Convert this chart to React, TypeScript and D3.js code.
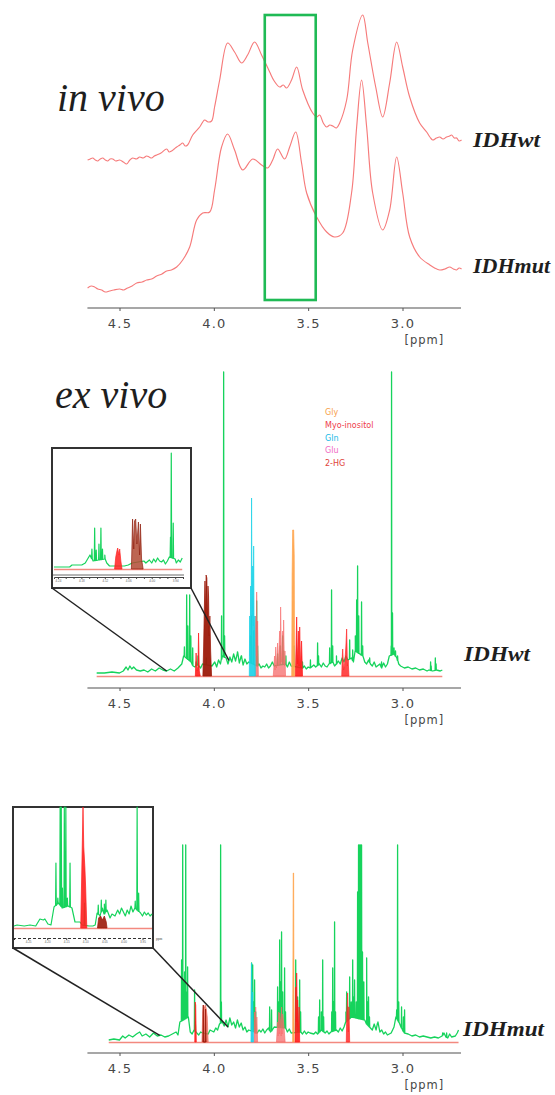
import * as d3 from "d3"
import React, { useEffect, useRef } from "react"

type Pt = [number, number]

// ---- in vivo spectra: [ppm, intensity a.u.] ----
const vivoWt: Pt[] = [
  [4.669, 5], [4.655, 6], [4.642, 7], [4.628, 5], [4.616, 4], [4.602, 6], [4.589, 7], [4.575, 5],
  [4.563, 4], [4.55, 6], [4.536, 6], [4.52, 4], [4.499, 5], [4.48, 3], [4.462, 1], [4.445, 5],
  [4.43, 7], [4.41, 6], [4.393, 8], [4.375, 7], [4.356, 9], [4.343, 8], [4.33, 7], [4.315, 9],
  [4.303, 10], [4.28, 12], [4.25, 16], [4.237, 13], [4.224, 14], [4.21, 16], [4.197, 18], [4.18, 20],
  [4.165, 22], [4.152, 19], [4.139, 20], [4.112, 30], [4.075, 38], [4.049, 45], [4.03, 43], [4.012, 44], [3.996, 58],
  [3.969, 85], [3.927, 122], [3.89, 113], [3.853, 102], [3.821, 110], [3.784, 123], [3.747, 110],
  [3.704, 93], [3.68, 84], [3.651, 78], [3.632, 80], [3.614, 77], [3.588, 85], [3.561, 98], [3.529, 75], [3.476, 52],
  [3.455, 48], [3.439, 50], [3.42, 42], [3.402, 38], [3.385, 40], [3.37, 39], [3.35, 37], [3.333, 42],
  [3.296, 65], [3.264, 115], [3.211, 150],
  [3.184, 122], [3.142, 78], [3.105, 48], [3.068, 82], [3.031, 123], [2.999, 98], [2.962, 68],
  [2.909, 42], [2.872, 33], [2.855, 28], [2.84, 25], [2.82, 27], [2.803, 28], [2.785, 26], [2.766, 28],
  [2.75, 29], [2.74, 30], [2.725, 27], [2.713, 27], [2.7, 24], [2.687, 25]
]
const vivoMut: Pt[] = [
  [4.669, 7], [4.65, 9], [4.632, 8], [4.615, 6], [4.595, 5], [4.575, 3], [4.553, 4], [4.53, 5],
  [4.499, 6], [4.478, 5], [4.457, 7], [4.433, 9], [4.409, 12], [4.38, 13], [4.356, 15], [4.33, 16],
  [4.303, 19], [4.275, 21], [4.25, 24], [4.225, 25], [4.197, 28], [4.165, 35], [4.128, 48], [4.091, 75], [4.059, 82],
  [4.022, 83], [3.996, 105], [3.959, 148], [3.927, 161], [3.89, 145], [3.847, 125], [3.794, 136],
  [3.747, 130], [3.715, 127], [3.688, 135], [3.662, 146], [3.625, 136], [3.598, 148], [3.566, 163],
  [3.535, 132], [3.508, 102], [3.455, 78], [3.402, 63], [3.36, 58], [3.317, 62], [3.27, 102],
  [3.243, 168], [3.217, 215], [3.19, 168], [3.158, 102], [3.105, 65], [3.068, 85], [3.031, 138],
  [2.999, 102], [2.962, 58], [2.909, 38], [2.855, 30], [2.83, 27], [2.803, 25], [2.775, 26], [2.75, 28],
  [2.73, 26], [2.713, 25], [2.7, 27], [2.687, 26]
]

// ---- ex vivo IDHwt ----
const wtBase: Pt[] = [
  [4.621, 3], [4.58, 3], [4.54, 4], [4.5, 3], [4.48, 5], [4.465, 9], [4.455, 6], [4.445, 10], [4.435, 7],
  [4.425, 9], [4.41, 6], [4.39, 5], [4.37, 6], [4.35, 4], [4.33, 7], [4.31, 5], [4.29, 8], [4.27, 6],
  [4.25, 5], [4.23, 7], [4.21, 5], [4.19, 8], [4.17, 12], [4.16, 20], [4.12, 14], [4.11, 10], [4.1, 9],
  [4.09, 12], [4.07, 8], [4.06, 12], [4.01, 10], [3.995, 14], [3.985, 9], [3.975, 16], [3.965, 12],
  [3.955, 20], [3.935, 18], [3.925, 12], [3.915, 19], [3.905, 14], [3.895, 22], [3.885, 15], [3.875, 24],
  [3.865, 13], [3.855, 20], [3.845, 11], [3.835, 17], [3.825, 12], [3.815, 14], [3.77, 10], [3.76, 12],
  [3.75, 8], [3.74, 10], [3.73, 9], [3.72, 12], [3.71, 8], [3.7, 10], [3.69, 14], [3.68, 10], [3.62, 12],
  [3.61, 9], [3.6, 14], [3.59, 10], [3.53, 8], [3.52, 10], [3.51, 7], [3.5, 9], [3.49, 8], [3.47, 11],
  [3.46, 9], [3.44, 12], [3.43, 9], [3.42, 13], [3.41, 10], [3.4, 9], [3.39, 12], [3.37, 14], [3.36, 10],
  [3.35, 12], [3.34, 15], [3.33, 12], [3.32, 18], [3.31, 14], [3.3, 20], [3.29, 16], [3.27, 18],
  [3.26, 14], [3.25, 25], [3.21, 20], [3.2, 14], [3.19, 12], [3.18, 16], [3.17, 12], [3.16, 10],
  [3.15, 14], [3.14, 9], [3.12, 12], [3.11, 8], [3.1, 13], [3.09, 9], [3.08, 12], [3.07, 20], [3.045, 22],
  [3.03, 18], [3.02, 12], [3.01, 10], [2.99, 8], [2.97, 9], [2.95, 7], [2.93, 8], [2.91, 6], [2.89, 7],
  [2.87, 5], [2.86, 6], [2.84, 5], [2.82, 6], [2.8, 5], [2.789, 6]
]
const wtPeaks: Pt[] = [
  [4.156, 29], [4.144, 81], [4.138, 50], [4.128, 81], [4.122, 40], [4.112, 28], [4.094, 14], [4.084, 20],
  [4.04, 18], [3.959, 60], [3.948, 304], [3.943, 40], [3.874, 24], [3.853, 20], [3.805, 40], [3.8, 60],
  [3.789, 45], [3.773, 75], [3.768, 30], [3.662, 22], [3.648, 30], [3.635, 40], [3.63, 25], [3.618, 20],
  [3.575, 30], [3.53, 14], [3.488, 16], [3.45, 33], [3.445, 20], [3.386, 28], [3.376, 86], [3.37, 30],
  [3.35, 20], [3.28, 36], [3.264, 26], [3.25, 40], [3.243, 76], [3.238, 110], [3.232, 60], [3.217, 74],
  [3.211, 30], [3.174, 18], [3.111, 14], [3.06, 30], [3.058, 304], [3.053, 63], [3.045, 28], [3.037, 25],
  [3.026, 20], [2.851, 14], [2.848, 10], [2.826, 18], [2.822, 12]
]
const wtGln: Pt[] = [[3.812, 0], [3.81, 60], [3.807, 20], [3.805, 90], [3.802, 40], [3.8, 178], [3.797, 60], [3.794, 110], [3.791, 50], [3.789, 130], [3.786, 30], [3.783, 60], [3.78, 0]]
const wtGly: Pt[] = [[3.587, 0], [3.585, 100], [3.582, 146], [3.577, 146], [3.574, 120], [3.572, 0]]
const wtSalmonA: Pt[] = [[3.782, 0], [3.778, 60], [3.775, 20], [3.773, 84], [3.77, 30], [3.768, 55], [3.764, 0]]
const wtSalmonB: Pt[] = [[3.685, 0], [3.678, 20], [3.675, 6], [3.672, 29], [3.668, 8], [3.662, 33], [3.658, 10], [3.651, 45], [3.648, 12], [3.646, 69], [3.641, 14], [3.635, 45], [3.632, 12], [3.63, 56], [3.626, 10], [3.623, 25], [3.62, 0]]
const wtRedA: Pt[] = [[4.098, 0], [4.094, 23], [4.09, 5], [4.084, 10], [4.081, 43], [4.077, 5], [4.072, 0]]
const wtRedB: Pt[] = [[3.568, 0], [3.564, 30], [3.561, 59], [3.557, 12], [3.552, 45], [3.548, 10], [3.545, 49], [3.54, 8], [3.535, 35], [3.53, 0]]
const wtRedC: Pt[] = [[3.322, 0], [3.319, 20], [3.317, 27], [3.312, 6], [3.305, 15], [3.3, 30], [3.296, 47], [3.292, 10], [3.288, 16], [3.284, 0]]
const wtDark: Pt[] = [[4.058, 0], [4.054, 30], [4.05, 70], [4.047, 95], [4.044, 60], [4.041, 101], [4.037, 98], [4.034, 55], [4.031, 90], [4.028, 80], [4.025, 40], [4.021, 60], [4.017, 25], [4.012, 0]]

// ---- ex vivo IDHmut ----
const mutBase: Pt[] = [
  [4.557, 2], [4.53, 3], [4.5, 2], [4.483, 6], [4.47, 4], [4.45, 7], [4.43, 5], [4.41, 8], [4.393, 10],
  [4.38, 6], [4.36, 8], [4.34, 5], [4.32, 9], [4.3, 6], [4.28, 7], [4.26, 5], [4.24, 6], [4.22, 8],
  [4.2, 10], [4.19, 7], [4.18, 20], [4.135, 25], [4.125, 10], [4.115, 8], [4.105, 12], [4.09, 9],
  [4.08, 7], [4.07, 10], [4.06, 9], [4.03, 8], [4.02, 12], [4.0, 10], [3.99, 14], [3.98, 12], [3.97, 18],
  [3.955, 20], [3.945, 16], [3.935, 22], [3.925, 15], [3.915, 24], [3.905, 17], [3.895, 20], [3.885, 14],
  [3.875, 22], [3.865, 15], [3.855, 19], [3.845, 12], [3.835, 15], [3.825, 10], [3.815, 12], [3.77, 9],
  [3.76, 12], [3.75, 10], [3.74, 13], [3.73, 9], [3.72, 12], [3.71, 14], [3.7, 10], [3.69, 12], [3.68, 15],
  [3.62, 14], [3.61, 10], [3.6, 13], [3.59, 9], [3.54, 10], [3.53, 8], [3.52, 11], [3.51, 8], [3.5, 10],
  [3.49, 9], [3.47, 8], [3.46, 10], [3.45, 8], [3.43, 12], [3.41, 9], [3.4, 11], [3.39, 8], [3.38, 10],
  [3.35, 12], [3.34, 10], [3.33, 14], [3.32, 11], [3.31, 15], [3.3, 20], [3.27, 25], [3.2, 22], [3.19, 18],
  [3.17, 14], [3.16, 12], [3.15, 18], [3.14, 12], [3.13, 20], [3.12, 10], [3.11, 12], [3.1, 8], [3.09, 10],
  [3.08, 7], [3.06, 9], [3.045, 15], [3.035, 25], [3.02, 20], [3.0, 12], [2.99, 9], [2.97, 8], [2.95, 6],
  [2.93, 7], [2.91, 5], [2.89, 6], [2.87, 5], [2.85, 4], [2.83, 5], [2.81, 4], [2.79, 6], [2.78, 9],
  [2.77, 5], [2.76, 4], [2.75, 8], [2.74, 5], [2.72, 6], [2.71, 9], [2.703, 12]
]
const mutPeaks: Pt[] = [
  [4.171, 82], [4.165, 197], [4.16, 60], [4.155, 70], [4.149, 197], [4.143, 50], [4.139, 75], [4.102, 52],
  [4.098, 20], [3.964, 197], [3.96, 40], [3.8, 79], [3.794, 77], [3.788, 40], [3.784, 62], [3.778, 30],
  [3.704, 35], [3.694, 32], [3.662, 55], [3.656, 40], [3.651, 102], [3.646, 60], [3.641, 110], [3.635, 50],
  [3.625, 74], [3.62, 30], [3.566, 82], [3.556, 45], [3.545, 62], [3.54, 30], [3.445, 25], [3.439, 42],
  [3.43, 30], [3.423, 82], [3.418, 25], [3.375, 30], [3.37, 74], [3.365, 40], [3.36, 120], [3.355, 30],
  [3.3, 30], [3.296, 50], [3.29, 35], [3.28, 65], [3.272, 40], [3.264, 82], [3.258, 45], [3.254, 62],
  [3.245, 40], [3.238, 150], [3.233, 197], [3.23, 120], [3.227, 197], [3.222, 197], [3.217, 197],
  [3.212, 90], [3.205, 60], [3.19, 84], [3.185, 40], [3.18, 45], [3.175, 25], [3.132, 19], [3.031, 32],
  [3.026, 197], [3.02, 40], [3.005, 35], [2.995, 25], [2.989, 32], [2.787, 9], [2.766, 9]
]
const mutGln: Pt[] = [[3.803, 0], [3.8, 79], [3.797, 30], [3.794, 50], [3.79, 0]]
const mutGly: Pt[] = [[3.582, 0], [3.579, 169], [3.577, 169], [3.575, 0]]
const mutSalmonA: Pt[] = [[3.788, 0], [3.784, 30], [3.781, 8], [3.778, 35], [3.775, 8], [3.772, 25], [3.768, 0]]
const mutSalmonB: Pt[] = [[3.668, 0], [3.662, 20], [3.659, 6], [3.656, 30], [3.653, 8], [3.651, 29], [3.646, 20], [3.643, 6], [3.641, 35], [3.638, 8], [3.635, 28], [3.628, 15], [3.622, 0]]
const mutSalmonC: Pt[] = [[4.063, 0], [4.059, 30], [4.055, 37], [4.05, 34], [4.045, 37], [4.04, 33], [4.035, 25], [4.03, 0]]
const mutRedA: Pt[] = [[4.101, 0], [4.099, 40], [4.096, 37], [4.093, 0]]
const mutRedB: Pt[] = [[3.57, 0], [3.566, 55], [3.562, 20], [3.561, 69], [3.557, 15], [3.556, 42], [3.552, 10], [3.548, 35], [3.545, 0]]
const mutRedC: Pt[] = [[3.298, 0], [3.295, 30], [3.291, 49], [3.287, 10], [3.284, 35], [3.28, 0]]
const mutDark: Pt[] = [[4.058, 0], [4.056, 37], [4.053, 0], [4.046, 0], [4.044, 33], [4.041, 0]]

// ---- insets ----
const insetWtBase: Pt[] = [
  [4.25, 2], [4.23, 2], [4.21, 2], [4.204, 4], [4.19, 4], [4.179, 4], [4.17, 6], [4.158, 14], [4.15, 8],
  [4.12, 10], [4.115, 6], [4.108, 3], [4.095, 3], [4.07, 3], [4.06, 4], [4.05, 6], [4.02, 8], [4.015, 6],
  [4.006, 9], [4.0, 6], [3.995, 10], [3.99, 7], [3.985, 11], [3.98, 8], [3.975, 7], [3.97, 9], [3.965, 5],
  [3.96, 8], [3.955, 12], [3.94, 10], [3.937, 6], [3.932, 9], [3.927, 7], [3.922, 11]
]
const insetWtPeaks: Pt[] = [[4.153, 20], [4.146, 41], [4.142, 19], [4.135, 25], [4.13, 41], [4.126, 20], [4.12, 14], [3.952, 32], [3.95, 116], [3.945, 46]]
const insetWtRed: Pt[] = [[4.095, 0], [4.092, 12], [4.089, 18], [4.087, 21], [4.084, 14], [4.082, 20], [4.079, 8], [4.076, 0]]
const insetWtDark: Pt[] = [[4.052, 0], [4.049, 50], [4.046, 20], [4.044, 48], [4.041, 50], [4.038, 25], [4.034, 47], [4.031, 14], [4.029, 45], [4.026, 10], [4.022, 0]]

const insetMutBase: Pt[] = [
  [4.287, 2], [4.279, 3], [4.26, 2], [4.245, 3], [4.23, 2], [4.219, 9], [4.21, 8], [4.206, 9], [4.198, 4],
  [4.19, 3], [4.182, 21], [4.17, 25], [4.16, 20], [4.145, 22], [4.135, 20], [4.127, 6], [4.114, 6],
  [4.108, 3], [4.09, 2], [4.08, 2], [4.074, 3], [4.069, 15], [4.061, 12], [4.055, 20], [4.05, 14],
  [4.043, 18], [4.035, 10], [4.03, 14], [4.022, 12], [4.015, 18], [4.01, 14], [4.005, 20], [4.0, 16],
  [3.995, 12], [3.99, 18], [3.985, 14], [3.98, 22], [3.975, 16], [3.97, 20], [3.955, 15], [3.95, 12],
  [3.945, 16], [3.94, 13], [3.935, 15], [3.93, 12], [3.925, 14]
]
const insetMutPeaks: Pt[] = [[4.177, 65], [4.172, 30], [4.166, 121], [4.163, 121], [4.16, 40], [4.155, 121], [4.151, 121], [4.147, 30], [4.14, 65], [4.102, 25], [4.066, 23], [4.058, 28], [4.05, 24], [4.046, 28], [3.969, 27], [3.964, 121], [3.96, 35]]
const insetMutRed: Pt[] = [[4.112, 0], [4.11, 40], [4.108, 81], [4.106, 121], [4.104, 81], [4.101, 60], [4.099, 40], [4.096, 0]]
const insetMutDark: Pt[] = [[4.068, 0], [4.065, 10], [4.06, 12], [4.055, 8], [4.05, 12], [4.045, 6], [4.043, 0]]

const ppmTicks = [4.5, 4.0, 3.5, 3.0]
const axisSpan: Pt = [4.67, 2.69]
const boxRange: Pt = [3.73, 3.46]
const legendNames = ["Gly", "Myo-inositol", "Gln", "Glu", "2-HG"]
const legendColors = ["#f7a04a", "#ee3d4d", "#16b9e6", "#f06ac4", "#e0433c"]

const GREEN = "#16d35c"
const BASE_RED = "#f3897f"

const baseAt = (base: Pt[], p: number) => {
  const s = base.slice().sort((a, b) => a[0] - b[0])
  const i = d3.bisector((d: Pt) => d[0]).left(s, p)
  if (i <= 0) return s[0][1]
  if (i >= s.length) return s[s.length - 1][1]
  const [p0, v0] = s[i - 1]
  const [p1, v1] = s[i]
  return v0 + (v1 - v0) * (p - p0) / (p1 - p0)
}

const buildTrace = (base: Pt[], peaks: Pt[], hw: number): Pt[] => {
  const pts: Pt[] = base.slice()
  peaks.forEach(([p, h]) => {
    const b = baseAt(base, p)
    pts.push([p + hw, b], [p, h], [p - hw, b])
  })
  return pts.sort((a, b) => b[0] - a[0])
}

const App = () => {
  const ref = useRef<SVGSVGElement>(null)

  useEffect(() => {
    const svg = d3.select(ref.current)
    svg.selectAll("*").remove()

    const xs = d3.scaleLinear().domain([4.5, 3.0]).range([119.5, 402.5])

    const drawAxis = (y0: number) => {
      const g = svg.append("g").attr("transform", `translate(0, ${y0})`)
      g.append("line")
        .attr("x1", xs(axisSpan[0])).attr("x2", xs(axisSpan[1]))
        .attr("stroke", "#8a8a8a").attr("stroke-width", 1.6)
      const ax = g.append("g").call(d3.axisBottom(xs).tickValues(ppmTicks).tickSize(3).tickFormat(d3.format(".1f")))
      ax.select(".domain").remove()
      ax.selectAll(".tick line").attr("stroke", "#555")
      ax.selectAll(".tick text")
        .attr("y", 11).attr("font-family", "DejaVu Sans").attr("font-size", 13)
        .attr("fill", "#474747").attr("letter-spacing", 1.2)
      g.append("text").attr("x", xs(3.0) + 2).attr("y", 36)
        .attr("font-family", "DejaVu Sans").attr("font-size", 11.5).attr("letter-spacing", 1)
        .attr("fill", "#474747").text("[ppm]")
    }

    const label = (txt: string, x0: number, y0: number, len: number) => {
      svg.append("text").attr("x", x0).attr("y", y0)
        .attr("font-family", "Liberation Serif").attr("font-style", "italic").attr("font-weight", "bold")
        .attr("font-size", 20).attr("fill", "#1e1e1e")
        .attr("textLength", len).attr("lengthAdjust", "spacingAndGlyphs").text(txt)
    }
    const title = (txt: string, x0: number, y0: number) => {
      svg.append("text").attr("x", x0).attr("y", y0)
        .attr("font-family", "Liberation Serif").attr("font-style", "italic")
        .attr("font-size", 40).attr("fill", "#1e1e1e").text(txt)
    }

    // ---------- in vivo ----------
    const yVivoWt = d3.scaleLinear().domain([0, 150]).range([165, 15])
    const yVivoMut = d3.scaleLinear().domain([0, 150]).range([295, 145])
    ;[[vivoWt, yVivoWt], [vivoMut, yVivoMut]].forEach(([data, ys]: any) => {
      svg.append("path")
        .attr("d", d3.line<Pt>().x(d => xs(d[0])).y(d => ys(d[1])).curve(d3.curveCatmullRom)(data))
        .attr("fill", "none").attr("stroke", "#f67b7b").attr("stroke-width", 1.15)
    })
    svg.append("rect")
      .attr("x", xs(boxRange[0])).attr("y", 15)
      .attr("width", xs(boxRange[1]) - xs(boxRange[0])).attr("height", 285)
      .attr("fill", "none").attr("stroke", "#1fba55").attr("stroke-width", 2.6)
    drawAxis(308)
    title("in vivo", 57, 111)
    label("IDHwt", 473, 147, 67)
    label("IDHmut", 473, 273, 77)

    // ---------- ex vivo helpers ----------
    const drawSpectrum = (base: Pt[], peaks: Pt[], ys: d3.ScaleLinear<number, number>, xsc: d3.ScaleLinear<number, number>, hw: number, w: number) => {
      const trace = buildTrace(base, peaks, hw)
      const ext = d3.extent(base, d => d[0]) as [number, number]
      svg.append("line")
        .attr("x1", xsc(ext[1])).attr("x2", xsc(ext[0]))
        .attr("y1", ys(0) + 0.5).attr("y2", ys(0) + 0.5)
        .attr("stroke", BASE_RED).attr("stroke-width", 1.6)
      svg.append("path")
        .attr("d", d3.line<Pt>().x(d => xsc(d[0])).y(d => ys(d[1]))(trace))
        .attr("fill", "none").attr("stroke", GREEN).attr("stroke-width", w)
        .attr("stroke-linejoin", "round")
    }
    const drawMet = (data: Pt[], color: string, ys: d3.ScaleLinear<number, number>, xsc: d3.ScaleLinear<number, number>, op: number, stroke?: string) => {
      svg.append("path")
        .attr("d", d3.area<Pt>().x(d => xsc(d[0])).y0(ys(0)).y1(d => ys(d[1]))(data))
        .attr("fill", color).attr("fill-opacity", op)
        .attr("stroke", stroke || color).attr("stroke-width", 0.8).attr("stroke-opacity", op)
    }

    // ---------- ex vivo IDHwt ----------
    const yWt = d3.scaleLinear().domain([0, 304]).range([676, 372])
    drawSpectrum(wtBase, wtPeaks, yWt, xs, 0.0012, 1.3)
    drawMet(wtSalmonA, "#f66a6a", yWt, xs, 0.8)
    drawMet(wtSalmonB, "#f66a6a", yWt, xs, 0.75)
    drawMet(wtRedA, "#ff1c1c", yWt, xs, 0.9)
    drawMet(wtRedB, "#ff1c1c", yWt, xs, 0.9)
    drawMet(wtRedC, "#ff2a2a", yWt, xs, 0.85)
    drawMet(wtDark, "#9c1a0a", yWt, xs, 0.95)
    drawMet(wtGln, "#1ad2e8", yWt, xs, 0.9)
    drawMet(wtGly, "#ffa54d", yWt, xs, 0.95)
    drawAxis(688)
    title("ex vivo", 55, 408)
    label("IDHwt", 464, 661, 66)

    legendNames.forEach((n, i) => {
      svg.append("text").attr("x", 325).attr("y", 415 + i * 12.8)
        .attr("font-family", "DejaVu Sans").attr("font-size", 8).attr("fill", legendColors[i]).text(n)
    })

    // inset IDHwt
    const ixWt = d3.scaleLinear().domain([4.25, 3.92]).range([54, 183])
    const iyWt = d3.scaleLinear().domain([0, 116]).range([569, 453])
    svg.append("rect").attr("x", 52).attr("y", 448).attr("width", 139).attr("height", 140)
      .attr("fill", "#fff").attr("stroke", "#333").attr("stroke-width", 2)
    drawSpectrum(insetWtBase, insetWtPeaks, iyWt, ixWt, 0.0009, 1.2)
    drawMet(insetWtRed, "#ff2020", iyWt, ixWt, 0.85)
    drawMet(insetWtDark, "#b24a34", iyWt, ixWt, 0.85, "#8e1c0c")
    const iaWt = svg.append("g").attr("transform", "translate(0, 577)")
      .call(d3.axisBottom(ixWt).ticks(16).tickSize(2).tickFormat((d: any, i: number) => i % 3 === 0 ? d3.format(".2f")(d) : ""))
    iaWt.select(".domain").attr("stroke", "#444").attr("stroke-width", 1)
    iaWt.selectAll(".tick line").attr("stroke", "#444")
    iaWt.selectAll(".tick text").attr("y", 3).attr("font-size", 3).attr("fill", "#666")
    svg.append("line").attr("x1", ixWt.range()[0] - 1).attr("x2", ixWt.range()[1] + 1)
      .attr("y1", 575).attr("y2", 575).attr("stroke", "#444").attr("stroke-width", 0.8)

    // connectors IDHwt
    ;[[52, ixWt.domain()[0]], [191, ixWt.domain()[1]]].forEach(([bx, p]) => {
      svg.append("line").attr("x1", bx).attr("y1", 588)
        .attr("x2", xs(p)).attr("y2", yWt(baseAt(wtBase, p)))
        .attr("stroke", "#222").attr("stroke-width", 1.5)
    })

    // ---------- ex vivo IDHmut ----------
    const yMut = d3.scaleLinear().domain([0, 197]).range([1042, 845])
    drawSpectrum(mutBase, mutPeaks, yMut, xs, 0.0012, 1.3)
    drawMet(mutSalmonA, "#f66a6a", yMut, xs, 0.75)
    drawMet(mutSalmonB, "#f66a6a", yMut, xs, 0.75)
    drawMet(mutSalmonC, "#f06a5a", yMut, xs, 0.8)
    drawMet(mutDark, "#9c1a0a", yMut, xs, 0.95)
    drawMet(mutRedA, "#ff1c1c", yMut, xs, 0.9)
    drawMet(mutRedB, "#ff1c1c", yMut, xs, 0.9)
    drawMet(mutRedC, "#ff2a2a", yMut, xs, 0.85)
    drawMet(mutGln, "#1ad2e8", yMut, xs, 0.9)
    drawMet(mutGly, "#ffa54d", yMut, xs, 0.95)
    drawAxis(1053)
    label("IDHmut", 463, 1036, 81)

    // inset IDHmut
    const ixMut = d3.scaleLinear().domain([4.287, 3.925]).range([14, 152])
    const iyMut = d3.scaleLinear().domain([0, 121]).range([928, 807])
    svg.append("rect").attr("x", 13).attr("y", 807).attr("width", 140).attr("height", 141)
      .attr("fill", "#fff").attr("stroke", "#333").attr("stroke-width", 2)
    drawSpectrum(insetMutBase, insetMutPeaks, iyMut, ixMut, 0.0009, 1.2)
    drawMet(insetMutRed, "#ff2020", iyMut, ixMut, 0.9)
    drawMet(insetMutDark, "#9c1a0a", iyMut, ixMut, 0.9)
    const iaMut = svg.append("g").attr("transform", "translate(0, 938)")
      .call(d3.axisBottom(ixMut).ticks(8).tickSize(2).tickFormat(d3.format(".2f")))
    iaMut.select(".domain").attr("stroke", "#333").attr("stroke-width", 1.2).attr("stroke-dasharray", "3,2")
    iaMut.selectAll(".tick line").attr("stroke", "#444")
    iaMut.selectAll(".tick text").attr("y", 3).attr("font-size", 3).attr("fill", "#666")
    svg.append("text").attr("x", 156).attr("y", 940).attr("font-size", 3.5).attr("fill", "#444").text("ppm")

    ;[[13, ixMut.domain()[0]], [153, ixMut.domain()[1]]].forEach(([bx, p]) => {
      svg.append("line").attr("x1", bx).attr("y1", 948)
        .attr("x2", xs(p)).attr("y2", yMut(baseAt(mutBase, p)))
        .attr("stroke", "#222").attr("stroke-width", 1.5)
    })
  }, [])

  return (
    <svg ref={ref} width={555} height={1095}
      style={{ position: "absolute", left: 0, top: 0, background: "#fff" }} />
  )
}

export default App
